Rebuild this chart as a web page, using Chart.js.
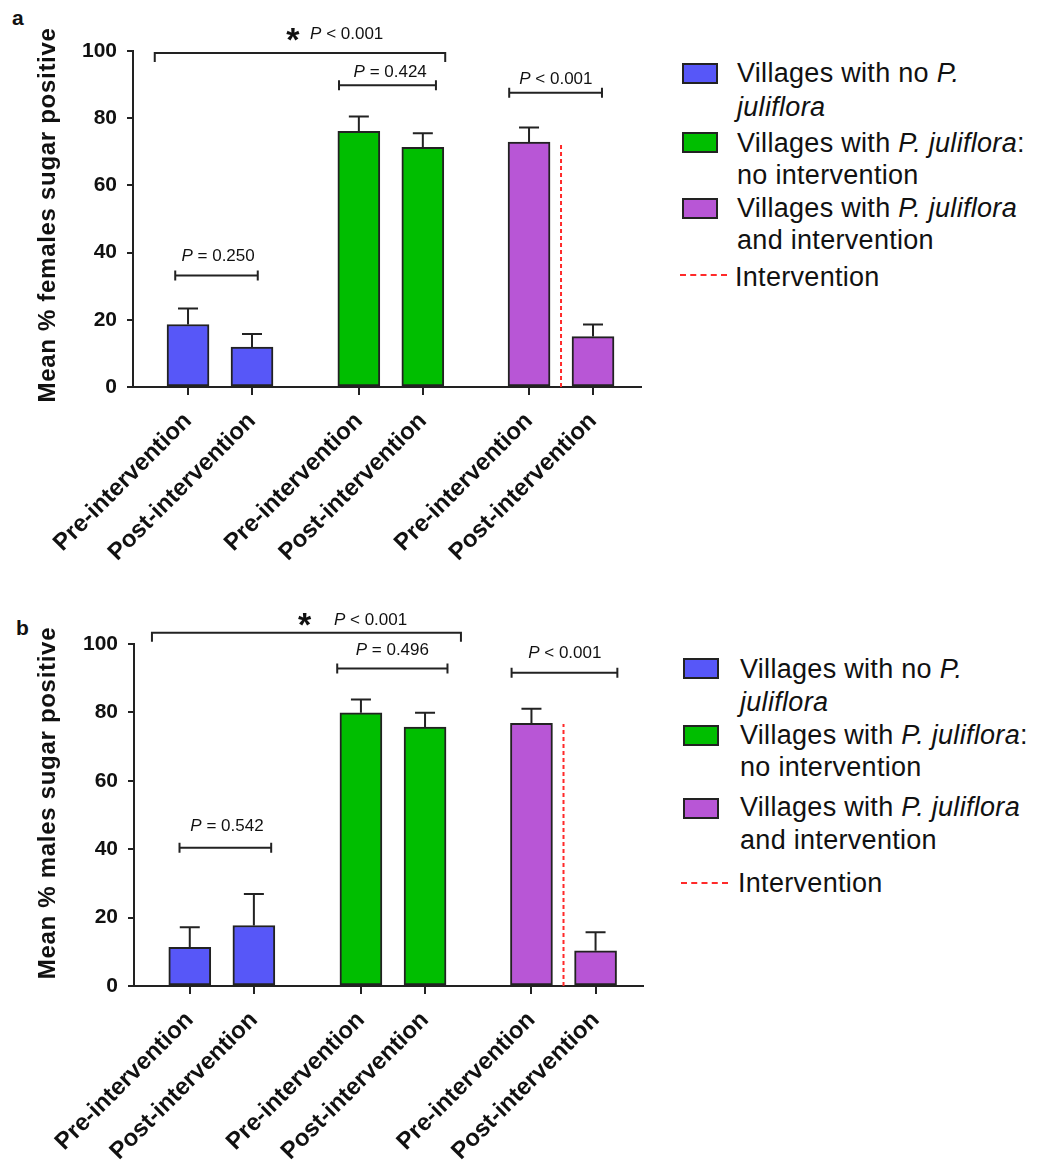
<!DOCTYPE html>
<html><head><meta charset="utf-8">
<script src="https://cdn.jsdelivr.net/npm/chart.js@4.4.1/dist/chart.umd.min.js"></script>
<style>
body{margin:0;background:#fff;width:1037px;height:1166px;position:relative;overflow:hidden;font-family:"Liberation Sans",Arial,sans-serif;}
.wrap{position:absolute;left:0;}
.lg{position:absolute;font-size:27px;color:#111;white-space:nowrap;line-height:32px;height:32px;letter-spacing:0.3px;}
.box{position:absolute;width:32px;height:17px;border:2px solid #222;}
.dash{position:absolute;width:47px;height:0;border-top:2px dashed #ff2a2a;}
.pl{position:absolute;font-weight:bold;font-size:21px;color:#111;}
</style></head><body>
<div class="pl" style="left:12px;top:6px">a</div>
<div class="pl" style="left:16px;top:616px">b</div>
<div class="wrap" style="top:0"><canvas id="ca" width="660" height="580"></canvas></div>
<div class="wrap" style="top:590px"><canvas id="cb" width="660" height="576"></canvas></div>
<div id="legA"></div><div id="legB"></div>
<script>
// ---------------- data ----------------
const categories = ['Pre-intervention','Post-intervention','Pre-intervention','Post-intervention','Pre-intervention','Post-intervention'];
const groupOfBar = [0,0,1,1,2,2];
const groupColors = ['#5757F8','#00BE00','#B856D6'];
const yTicks = [0,20,40,60,80,100];
const femalesMean = [18.6, 11.9, 76.1, 71.3, 72.9, 15.0];
const femalesSEM  = [4.8, 3.9, 4.4, 4.2, 4.3, 3.6];
const malesMean   = [11.3, 17.7, 79.9, 75.7, 76.8, 10.3];
const malesSEM    = [5.9, 9.2, 3.9, 4.2, 4.3, 5.4];
const femalesInterventionTop = 72.1;
const malesInterventionTop = 76.6;
const femalesP = ['P < 0.001','P = 0.250','P = 0.424','P < 0.001'];
const malesP   = ['P < 0.001','P = 0.542','P = 0.496','P < 0.001'];
const femalesTitle = 'Mean % females sugar positive';
const malesTitle = 'Mean % males sugar positive';

// ---------------- layout (axis units) ----------------
const barSlots = [0, 1, 2.67, 3.67, 5.33, 6.33];
const interventionSlot = 5.83;
const bracketsA = [
  {from:-0.52, to:4.02, y:99.4, kind:'drop', tx:2.48, ty:105.0, star:true, sx:1.64, sy:105.6},
  {from:-0.20, to:1.09, y:33.2, kind:'tick', tx:0.47, ty:38.8},
  {from:2.36,  to:3.875,y:89.8, kind:'tick', tx:3.16, ty:93.8},
  {from:5.02,  to:6.47, y:87.6, kind:'tick', tx:5.75, ty:91.6}
];
const bracketsB = [
  {from:-0.59, to:4.23, y:103.3, kind:'drop', tx:2.82, ty:107.0, star:true, sx:1.79, sy:108.0},
  {from:-0.16, to:1.27, y:40.4,  kind:'tick', tx:0.58, ty:46.6},
  {from:2.30,  to:4.02, y:92.8,  kind:'tick', tx:3.16, ty:98.2},
  {from:5.02,  to:6.67, y:91.6,  kind:'tick', tx:5.85, ty:97.4}
];

const FF = '"Liberation Sans", Arial, sans-serif';
const INK = '#222';

function drawP(ctx, text, cx, cy, size){
  const first = text[0], rest = text.slice(1);
  ctx.font = 'italic ' + size + 'px ' + FF; const w1 = ctx.measureText(first).width;
  ctx.font = size + 'px ' + FF; const w2 = ctx.measureText(rest).width;
  const x = cx - (w1 + w2) / 2;
  ctx.textBaseline = 'middle'; ctx.textAlign = 'left'; ctx.fillStyle = '#111';
  ctx.font = 'italic ' + size + 'px ' + FF; ctx.fillText(first, x, cy);
  ctx.font = size + 'px ' + FF; ctx.fillText(rest, x + w1, cy);
}

function makeChart(id, means, sems, interTop, pvals, brackets, title, titleCenterY, pad, yWidth, xHeight, xMin, xMax){
  const extras = {
    id: 'extras',
    afterDatasetsDraw(chart){
      const ctx = chart.ctx, xs = chart.scales.x, ys = chart.scales.y, ca = chart.chartArea;
      const y0px = ys.getPixelForValue(0);
      ctx.save();
      ctx.strokeStyle = INK; ctx.lineWidth = 2; ctx.lineCap = 'butt';
      ctx.beginPath(); ctx.moveTo(ca.left - 6, y0px); ctx.lineTo(ca.left, y0px); ctx.stroke();
      // x tick marks under each bar
      barSlots.forEach(s => {
        const x = Math.round(xs.getPixelForValue(s));
        ctx.beginPath(); ctx.moveTo(x, y0px); ctx.lineTo(x, y0px + 8); ctx.stroke();
      });
      means.forEach((m, i) => {
        const x = xs.getPixelForValue(barSlots[i]);
        const yb = ys.getPixelForValue(m), y1 = ys.getPixelForValue(m + sems[i]);
        ctx.beginPath(); ctx.moveTo(x, yb); ctx.lineTo(x, y1);
        ctx.moveTo(x - 10, y1); ctx.lineTo(x + 10, y1); ctx.stroke();
      });
      brackets.forEach((b, i) => {
        const x1 = xs.getPixelForValue(b.from), x2 = xs.getPixelForValue(b.to), y = ys.getPixelForValue(b.y);
        ctx.beginPath();
        if (b.kind === 'drop') {
          ctx.moveTo(x1, y + 9); ctx.lineTo(x1, y); ctx.lineTo(x2, y); ctx.lineTo(x2, y + 9);
        } else {
          ctx.moveTo(x1, y - 5); ctx.lineTo(x1, y + 5);
          ctx.moveTo(x2, y - 5); ctx.lineTo(x2, y + 5);
          ctx.moveTo(x1, y); ctx.lineTo(x2, y);
        }
        ctx.stroke();
        drawP(ctx, pvals[i], xs.getPixelForValue(b.tx), ys.getPixelForValue(b.ty), 17);
        if (b.star) {
          ctx.font = 'bold 34px ' + FF; ctx.textAlign = 'center'; ctx.textBaseline = 'alphabetic'; ctx.fillStyle = '#111';
          ctx.fillText('*', xs.getPixelForValue(b.sx), ys.getPixelForValue(b.sy) + 19);
        }
      });
      // y-axis title (letter-spaced, rotated)
      ctx.translate(55, titleCenterY);
      ctx.rotate(-Math.PI / 2);
      ctx.font = 'bold 24px ' + FF;
      if ('letterSpacing' in ctx) ctx.letterSpacing = '0.7px';
      ctx.textAlign = 'center'; ctx.textBaseline = 'alphabetic'; ctx.fillStyle = '#111';
      ctx.fillText(title, 0, 0);
      ctx.restore();
    }
  };
  return new Chart(document.getElementById(id), {
    type: 'bar',
    data: {
      datasets: [{
        type: 'bar',
        data: means.map((m, i) => ({x: barSlots[i], y: m})),
        backgroundColor: groupOfBar.map(g => groupColors[g]),
        borderColor: INK, borderWidth: 2, borderSkipped: false,
        barThickness: 42, order: 2
      }, {
        type: 'line',
        data: [{x: interventionSlot, y: 0}, {x: interventionSlot, y: interTop}],
        borderColor: '#ff2a2a', borderWidth: 2, borderDash: [4, 3],
        pointRadius: 0, fill: false, order: 1
      }]
    },
    options: {
      responsive: false, animation: false,
      layout: {padding: pad},
      plugins: {legend: {display: false}, tooltip: {enabled: false}},
      scales: {
        x: {
          type: 'linear', min: xMin, max: xMax, offset: false,
          afterBuildTicks: s => { s.ticks = barSlots.map(v => ({value: v})); },
          afterFit: s => { s.height = xHeight; },
          grid: {display: true, offset: false, drawOnChartArea: false, drawTicks: true, tickLength: 8, tickWidth: 2, tickColor: INK, color: INK, lineWidth: 2},
          border: {display: true, color: INK, width: 2},
          ticks: {autoSkip: false, maxRotation: 45, minRotation: 45, color: '#111', padding: 12,
                  font: {family: FF, size: 24, weight: 'bold'},
                  callback: (v, i) => categories[i]}
        },
        y: {
          min: 0, max: 100,
          afterBuildTicks: s => { s.ticks = yTicks.map(v => ({value: v})); },
          afterFit: s => { s.width = yWidth; },
          grid: {display: true, drawOnChartArea: false, drawTicks: true, tickLength: 6, tickWidth: 2, tickColor: INK, color: INK, lineWidth: 2},
          border: {display: true, color: INK, width: 2},
          ticks: {color: '#111', padding: 10, font: {family: FF, size: 21, weight: 'bold'}},
          title: {display: false}
        }
      }
    },
    plugins: [extras]
  });
}

makeChart('ca', femalesMean, femalesSEM, femalesInterventionTop, femalesP, bracketsA, femalesTitle, 215,
  {top: 51, right: 19, left: 0, bottom: 0}, 133, 193, -0.86, 7.08);
makeChart('cb', malesMean, malesSEM, malesInterventionTop, malesP, bracketsB, malesTitle, 213,
  {top: 54, right: 17, left: 0, bottom: 0}, 134, 180, -0.87, 7.07);

// ---------------- legends (HTML) ----------------
const legendEntries = [
  ['Villages with no <i>P.</i>', '<i>juliflora</i>'],
  ['Villages with <i>P. juliflora</i>:', 'no intervention'],
  ['Villages with <i>P. juliflora</i>', 'and intervention']
];
const interventionLabel = 'Intervention';
function buildLegend(el, boxLeft, boxTops, lineCenters, textLeft, dashY){
  let h = '';
  legendEntries.forEach((lines, i) => {
    h += `<div class="box" style="left:${boxLeft}px;top:${boxTops[i]}px;background:${groupColors[i]}"></div>`;
    lines.forEach((t, j) => {
      h += `<div class="lg" style="left:${textLeft}px;top:${lineCenters[i*2+j]-16}px">${t}</div>`;
    });
  });
  h += `<div class="dash" style="left:${boxLeft-2}px;top:${dashY-1}px"></div>`;
  h += `<div class="lg" style="left:${textLeft-2}px;top:${lineCenters[6]-16}px">${interventionLabel}</div>`;
  el.innerHTML = h;
}
buildLegend(document.getElementById('legA'), 682, [63, 132, 198], [73,107,143,175,208,240,277], 737, 275);
buildLegend(document.getElementById('legB'), 683, [658, 725, 798], [669,702,735,767,807,840,883], 740, 883);
</script>
</body></html>
